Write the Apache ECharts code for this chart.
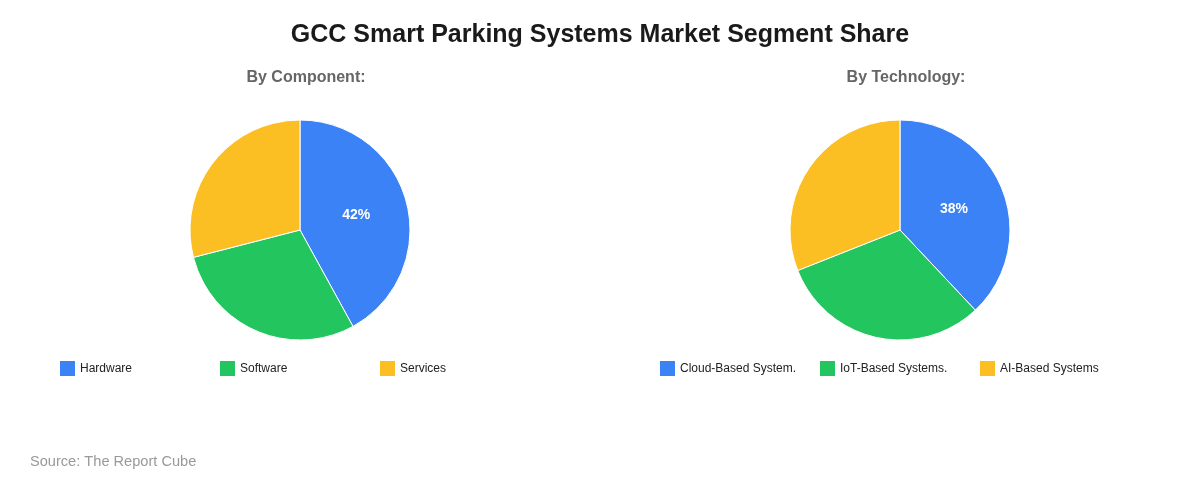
<!DOCTYPE html>
<html>
<head>
<meta charset="utf-8">
<script src="https://cdn.jsdelivr.net/npm/echarts@6/dist/echarts.min.js"></script>
<style>
  html, body { margin: 0; padding: 0; background: #fff; }
  #chart { width: 1200px; height: 480px; }
</style>
</head>
<body>
<div id="chart"></div>
<script>
var componentNames = ["Hardware", "Software", "Services"];
var componentValues = [42, 29, 29];
var technologyNames = ["Cloud-Based System.", "IoT-Based Systems.", "AI-Based Systems"];
var technologyValues = [38, 31, 31];
var colors = ["#3b82f6", "#22c55e", "#fbbf24"];

var font = "Liberation Sans, Arial, sans-serif";

function pieData(names, values) {
  return names.map(function (n, i) {
    return {
      name: n,
      value: values[i],
      itemStyle: { color: colors[i] },
      label: { show: i === 0 }
    };
  });
}

function legends(names, startX) {
  return names.map(function (n, i) {
    return {
      data: [n],
      left: startX + i * 160,
      top: 361,
      padding: 0,
      itemWidth: 15,
      itemHeight: 15,
      itemGap: 5,
      icon: "rect",
      itemStyle: { borderWidth: 0 },
      selectedMode: false,
      textStyle: { fontFamily: font, fontSize: 12, color: "#222" }
    };
  });
}

var chart = echarts.init(document.getElementById("chart"));
chart.setOption({
  animation: false,
  title: [
    {
      text: "GCC Smart Parking Systems Market Segment Share",
      left: "center",
      top: 18,
      textStyle: { fontFamily: font, fontSize: 25, fontWeight: "bold", color: "#1a1a1a" }
    },
    {
      text: "By Component:",
      left: 301,
      textAlign: "center",
      top: 65,
      textStyle: { fontFamily: font, fontSize: 16, fontWeight: "bold", color: "#666" }
    },
    {
      text: "By Technology:",
      left: 901,
      textAlign: "center",
      top: 65,
      textStyle: { fontFamily: font, fontSize: 16, fontWeight: "bold", color: "#666" }
    },
    {
      text: "Source: The Report Cube",
      left: 25,
      top: 449,
      textStyle: { fontFamily: font, fontSize: 14.6, fontWeight: "normal", color: "#999" }
    }
  ],
  legend: legends(componentNames, 60).concat(legends(technologyNames, 660)),
  series: [
    {
      type: "pie",
      center: [300, 230],
      radius: [0, 110],
      startAngle: 90,
      clockwise: true,
      itemStyle: { borderColor: "#fff", borderWidth: 1 },
      label: {
        position: "inside",
        formatter: "{c}%",
        color: "#fff",
        fontFamily: font,
        fontSize: 14,
        fontWeight: "bold"
      },
      labelLine: { show: false },
      emphasis: { disabled: true },
      data: pieData(componentNames, componentValues)
    },
    {
      type: "pie",
      center: [900, 230],
      radius: [0, 110],
      startAngle: 90,
      clockwise: true,
      itemStyle: { borderColor: "#fff", borderWidth: 1 },
      label: {
        position: "inside",
        formatter: "{c}%",
        color: "#fff",
        fontFamily: font,
        fontSize: 14,
        fontWeight: "bold"
      },
      labelLine: { show: false },
      emphasis: { disabled: true },
      data: pieData(technologyNames, technologyValues)
    }
  ]
});
</script>
</body>
</html>
